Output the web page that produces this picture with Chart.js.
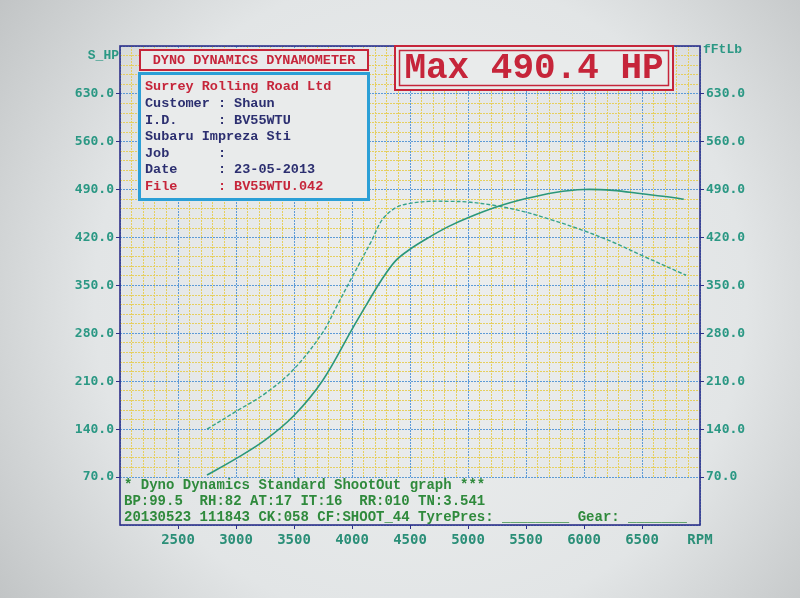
<!DOCTYPE html>
<html>
<head>
<meta charset="utf-8">
<title>Dyno Dynamics - Max 490.4 HP</title>
<script src="https://cdn.jsdelivr.net/npm/chart.js@4.4.1/dist/chart.umd.min.js"></script>
<style>
  html, body { margin: 0; padding: 0; background: #dfe2e3; }
  canvas { display: block; }
</style>
</head>
<body>
<canvas id="dyno" width="800" height="598"></canvas>
<script>
// Power run (solid) and torque (dashed)
const hpRpm = [2750, 3000, 3250, 3500, 3750, 4000, 4125, 4250, 4375, 4500, 4660, 4830, 5000, 5250, 5500, 5750, 6000, 6250, 6500, 6750, 6860];
const hpValues = [73, 97, 124, 160, 212, 286, 322, 357, 386, 403, 420, 436, 449, 465, 477, 486, 490.4, 489, 484, 479, 476];

const tqRpm = [2750, 3000, 3250, 3500, 3750, 3860, 4000, 4165, 4260, 4380, 4500, 4660, 4830, 5000, 5230, 5480, 5720, 6000, 6240, 6510, 6880];
const tqValues = [140, 166, 192, 228, 282, 317, 362, 414, 446, 464, 470, 473, 473, 472, 467, 458, 446, 430, 414, 393, 365];

// axes
const rpmMin = 2000, rpmMax = 7000;
const rpmLabels = [2500, 3000, 3500, 4000, 4500, 5000, 5500, 6000, 6500];
const powerMin = 0, powerMax = 700;
const powerLabels = [70, 140, 210, 280, 350, 420, 490, 560, 630];

// printout header / footer text
const headerTitle = 'DYNO DYNAMICS DYNAMOMETER';
const workshop = 'Surrey Rolling Road Ltd';
const infoRows = [
  ['Customer', 'Shaun'],
  ['I.D.', 'BV55WTU'],
  ['Subaru Impreza Sti', null],
  ['Job', ''],
  ['Date', '23-05-2013'],
  ['File', 'BV55WTU.042']
];
const footerLines = [
  '* Dyno Dynamics Standard ShootOut graph ***',
  'BP:99.5  RH:82 AT:17 IT:16  RR:010 TN:3.541',
  '20130523 111843 CK:058 CF:SHOOT_44 TyrePres: ________ Gear: _______'
];

const RED = '#c6253a';
const NAVY = '#2c2f70';
const FRAME = '#2e3089';
const CYAN = '#2b9fd6';
const TEAL = '#2b9884';
const GREEN = '#2f8a3c';
const CURVE = '#2a977a';
const MONO = "'Liberation Mono', 'DejaVu Sans Mono', monospace";

function paperFill(ctx) {
  const g = ctx.createRadialGradient(420, 300, 40, 420, 300, 560);
  g.addColorStop(0, '#eceeee');
  g.addColorStop(0.55, '#e2e5e6');
  g.addColorStop(1, '#babdbe');
  return g;
}

function put(ctx, str, x, y, color, size, align) {
  ctx.fillStyle = color;
  ctx.font = 'bold ' + size + 'px ' + MONO;
  ctx.textAlign = align || 'left';
  ctx.textBaseline = 'middle';
  ctx.fillText(str, x, y);
}

const printout = {
  id: 'printout',
  beforeDraw(chart) {
    const { ctx, width, height } = chart;
    ctx.save();
    ctx.fillStyle = paperFill(ctx);
    ctx.fillRect(0, 0, width, height);
    ctx.restore();
  },
  afterDatasetsDraw(chart) {
    const { ctx, chartArea: a } = chart;
    const y = chart.scales.y;
    ctx.save();

    // footer box covers the band below the 70 line
    const boxTop = y.getPixelForValue(powerLabels[0]) + 1;
    ctx.fillStyle = paperFill(ctx);
    ctx.fillRect(a.left, boxTop, a.right - a.left, a.bottom - boxTop);
    footerLines.forEach((line, i) => put(ctx, line, a.left + 4, boxTop + 7 + i * 16, GREEN, 14));

    // frame
    ctx.strokeStyle = FRAME;
    ctx.lineWidth = 1.6;
    ctx.strokeRect(a.left, a.top, a.right - a.left, a.bottom - a.top);

    // header block
    ctx.fillStyle = '#e9ebeb';
    ctx.fillRect(139, 50, 230, 150);
    ctx.strokeStyle = RED;
    ctx.lineWidth = 2;
    ctx.strokeRect(140, 50, 228, 20);
    put(ctx, headerTitle, 254, 61, RED, 13.5, 'center');
    ctx.strokeStyle = CYAN;
    ctx.lineWidth = 3;
    ctx.strokeRect(139.5, 73.5, 229, 126);
    put(ctx, workshop, 145, 87, RED, 13.5);
    infoRows.forEach((row, i) => {
      const color = row[0] === 'File' ? RED : NAVY;
      const str = row[1] === null ? row[0] : row[0].padEnd(9, ' ') + ': ' + row[1];
      put(ctx, str, 145, 104 + i * 16.5, color, 13.5);
    });

    // max power box
    ctx.fillStyle = '#e9ebeb';
    ctx.fillRect(395, 46, 278, 44);
    ctx.strokeStyle = RED;
    ctx.lineWidth = 2;
    ctx.strokeRect(395, 46, 278, 44);
    ctx.lineWidth = 1.5;
    ctx.strokeRect(399.5, 50.5, 269, 35);
    put(ctx, 'Max ' + Math.max(...hpValues).toFixed(1) + ' HP', 534, 69, RED, 36, 'center');

    // axis unit labels
    put(ctx, 'S_HP', a.left - 1, a.top + 10, TEAL, 13, 'right');
    put(ctx, 'fFtLb', a.right + 3, a.top + 4, TEAL, 13);
    ctx.restore();
  }
};

const gridLine = major => ctx => (ctx.tick && ctx.tick.value % major === 0) ? 'rgba(84,150,214,0.95)' : '#e6cf5e';
const tickMark = labels => ctx => (ctx.tick && labels.includes(ctx.tick.value)) ? FRAME : 'rgba(0,0,0,0)';
const tickFont = { family: "'DejaVu Sans Mono', monospace", size: 13, weight: 'bold' };

const powerAxis = (position, width, onArea) => ({
  type: 'linear',
  position: position,
  min: powerMin,
  max: powerMax,
  afterFit: s => { s.width = width; },
  ticks: {
    stepSize: 14,
    maxTicksLimit: 100,
    autoSkip: false,
    padding: 2,
    color: TEAL,
    font: tickFont,
    callback: v => powerLabels.includes(v) ? v.toFixed(1) : ''
  },
  grid: {
    drawOnChartArea: onArea,
    color: gridLine(70),
    lineWidth: 1,
    tickLength: 4,
    tickColor: tickMark(powerLabels)
  },
  border: { display: false, dash: [2, 1] }
});

new Chart(document.getElementById('dyno'), {
  type: 'line',
  data: {
    datasets: [
      {
        label: 'Power (HP)',
        data: hpRpm.map((r, i) => ({ x: r, y: hpValues[i] })),
        yAxisID: 'y',
        borderColor: CURVE,
        borderWidth: 1.6,
        pointRadius: 0,
        tension: 0.35
      },
      {
        label: 'Torque (ftlb)',
        data: tqRpm.map((r, i) => ({ x: r, y: tqValues[i] })),
        yAxisID: 'y2',
        borderColor: '#36a38a',
        borderWidth: 1.4,
        borderDash: [4, 2],
        pointRadius: 0,
        tension: 0.35
      }
    ]
  },
  options: {
    responsive: false,
    animation: false,
    layout: { padding: { top: 46 } },
    plugins: { legend: { display: false }, tooltip: { enabled: false } },
    scales: {
      x: {
        type: 'linear',
        min: rpmMin,
        max: rpmMax,
        afterFit: s => { s.height = 73; },
        ticks: {
          stepSize: 100,
          maxTicksLimit: 100,
          autoSkip: false,
          maxRotation: 0,
          padding: 3,
          color: '#2b8f78',
          font: { family: "'DejaVu Sans Mono', monospace", size: 14, weight: 'bold' },
          callback: v => rpmLabels.includes(v) ? String(v) : (v === rpmMax ? 'RPM' : '')
        },
        grid: {
          color: gridLine(500),
          lineWidth: 1,
          tickLength: 4,
          tickColor: tickMark(rpmLabels)
        },
        border: { display: false, dash: [2, 1] }
      },
      y: powerAxis('left', 120, true),
      y2: powerAxis('right', 100, false)
    }
  },
  plugins: [printout]
});
</script>
</body>
</html>
